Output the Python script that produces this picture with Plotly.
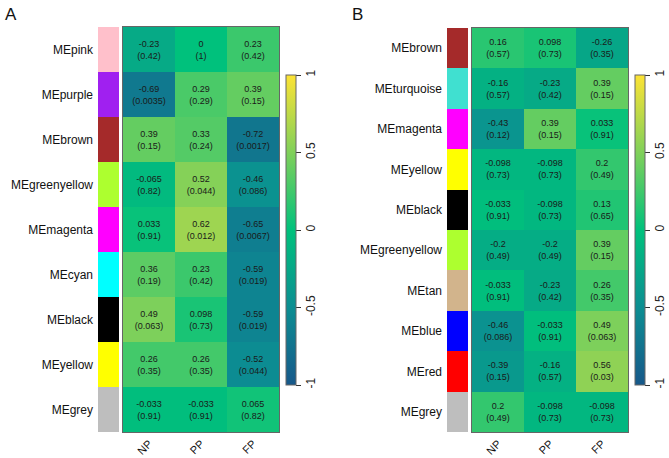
import plotly.graph_objects as go

traits = ["NP", "PP", "FP"]

# Panel A
rows_a = ["MEpink", "MEpurple", "MEbrown", "MEgreenyellow", "MEmagenta",
          "MEcyan", "MEblack", "MEyellow", "MEgrey"]
colors_a = ["#FFC0CB", "#A020F0", "#A52A2A", "#ADFF2F", "#FF00FF",
            "#00FFFF", "#000000", "#FFFF00", "#BEBEBE"]
r_np_a = [-0.23, -0.69, 0.39, -0.065, 0.033, 0.36, 0.49, 0.26, -0.033]
r_pp_a = [0, 0.29, 0.33, 0.52, 0.62, 0.23, 0.098, 0.26, -0.033]
r_fp_a = [0.23, 0.39, -0.72, -0.46, -0.65, -0.59, -0.59, -0.52, 0.065]
p_np_a = [0.42, 0.0035, 0.15, 0.82, 0.91, 0.19, 0.063, 0.35, 0.91]
p_pp_a = [1, 0.29, 0.24, 0.044, 0.012, 0.42, 0.73, 0.35, 0.91]
p_fp_a = [0.42, 0.15, 0.0017, 0.086, 0.0067, 0.019, 0.019, 0.044, 0.82]

# Panel B
rows_b = ["MEbrown", "MEturquoise", "MEmagenta", "MEyellow", "MEblack",
          "MEgreenyellow", "MEtan", "MEblue", "MEred", "MEgrey"]
colors_b = ["#A52A2A", "#40E0D0", "#FF00FF", "#FFFF00", "#000000",
            "#ADFF2F", "#D2B48C", "#0000FF", "#FF0000", "#BEBEBE"]
r_np_b = [0.16, -0.16, -0.43, -0.098, -0.033, -0.2, -0.033, -0.46, -0.39, 0.2]
r_pp_b = [0.098, -0.23, 0.39, -0.098, -0.098, -0.2, -0.23, -0.033, -0.16, -0.098]
r_fp_b = [-0.26, 0.39, 0.033, 0.2, 0.13, 0.39, 0.26, 0.49, 0.56, -0.098]
p_np_b = [0.57, 0.57, 0.12, 0.73, 0.91, 0.49, 0.91, 0.086, 0.15, 0.49]
p_pp_b = [0.73, 0.42, 0.15, 0.73, 0.73, 0.49, 0.42, 0.91, 0.57, 0.73]
p_fp_b = [0.35, 0.15, 0.91, 0.49, 0.65, 0.15, 0.35, 0.063, 0.03, 0.73]

colorscale = [[0.0, "#17588a"], [0.25, "#0c8e92"], [0.5, "#00c17c"],
              [0.75, "#80d05a"], [1.0, "#fde334"]]

FONT = "Arial, 'Liberation Sans', sans-serif"
W, H = 669, 458


def fx(px):
    return px / W


def fy(py):
    return 1 - py / H


def build(rs, ps):
    z = [[rs[0][i], rs[1][i], rs[2][i]] for i in range(len(rs[0]))]
    t = [[f"{rs[j][i]:g}<br>({ps[j][i]:g})" for j in range(3)] for i in range(len(rs[0]))]
    return z, t


fig = go.Figure()

panels = [
    dict(rows=rows_a, colors=colors_a, rs=[r_np_a, r_pp_a, r_fp_a], ps=[p_np_a, p_pp_a, p_fp_a],
         strip=(98, 119), heat=(123, 279), top=27, cb=286, sx="x", sy="y", hx="x2", hy="y2"),
    dict(rows=rows_b, colors=colors_b, rs=[r_np_b, r_pp_b, r_fp_b], ps=[p_np_b, p_pp_b, p_fp_b],
         strip=(447, 468), heat=(472, 628), top=28, cb=635, sx="x3", sy="y3", hx="x4", hy="y4"),
]

bottom = 432
for k, p in enumerate(panels):
    z, t = build(p["rs"], p["ps"])
    fig.add_trace(go.Bar(
        x=[1] * len(p["rows"]), y=p["rows"], orientation="h",
        marker=dict(color=p["colors"], line=dict(width=0)), width=1,
        xaxis=p["sx"], yaxis=p["sy"], showlegend=False, hoverinfo="skip"))
    fig.add_trace(go.Heatmap(
        z=z, x=traits, y=p["rows"], text=t, texttemplate="%{text}",
        textfont=dict(size=9, color="#1a1a1a", family=FONT),
        colorscale=colorscale, zmin=-1, zmax=1,
        xaxis=p["hx"], yaxis=p["hy"],
        colorbar=dict(x=fx(p["cb"]), xanchor="left", xpad=0, ypad=0,
                      y=fy(230), yanchor="middle", len=310 / H, thickness=10,
                      outlinewidth=1, outlinecolor="#666666",
                      tickvals=[-1, -0.5, 0, 0.5, 1], ticktext=["-1", "-0.5", "0", "0.5", "1"],
                      ticks="outside", ticklen=5, tickcolor="#333333",
                      tickangle=-90, tickfont=dict(size=12, color="#222222", family=FONT))))

layout = dict(
    width=W, height=H, margin=dict(l=0, r=0, t=0, b=0),
    paper_bgcolor="white", plot_bgcolor="white",
    font=dict(family=FONT, color="#222222"),
    bargap=0,
)

for k, p in enumerate(panels):
    sxn = "xaxis" if k == 0 else "xaxis3"
    syn = "yaxis" if k == 0 else "yaxis3"
    hxn = "xaxis2" if k == 0 else "xaxis4"
    hyn = "yaxis2" if k == 0 else "yaxis4"
    n = len(p["rows"])
    layout[sxn] = dict(domain=[fx(p["strip"][0]), fx(p["strip"][1])], range=[0, 1],
                       visible=False, anchor=p["sy"], fixedrange=True)
    layout[syn] = dict(domain=[fy(bottom), fy(p["top"])], anchor=p["sx"],
                       categoryorder="array", categoryarray=p["rows"],
                       range=[n - 0.5, -0.5], showline=False, showgrid=False,
                       ticks="", ticklabelstandoff=4,
                       tickfont=dict(size=12, color="#111111", family=FONT))
    layout[hxn] = dict(domain=[fx(p["heat"][0]), fx(p["heat"][1])], anchor=p["hy"],
                       showline=True, mirror=True, linecolor="#666666", linewidth=1,
                       ticks="", tickangle=-45, showgrid=False,
                       tickfont=dict(size=11, color="#111111", family=FONT))
    layout[hyn] = dict(domain=[fy(bottom), fy(p["top"])], anchor=p["hx"],
                       categoryorder="array", categoryarray=p["rows"],
                       range=[n - 0.5, -0.5], showticklabels=False,
                       showline=True, mirror=True, linecolor="#666666", linewidth=1,
                       ticks="", showgrid=False)

layout["annotations"] = [
    dict(text="A", x=fx(3), y=fy(3), xref="paper", yref="paper", xanchor="left",
         yanchor="top", showarrow=False, font=dict(size=17, color="#111111", family=FONT)),
    dict(text="B", x=fx(350), y=fy(3), xref="paper", yref="paper", xanchor="left",
         yanchor="top", showarrow=False, font=dict(size=17, color="#111111", family=FONT)),
]

fig.update_layout(**layout)
fig.write_html("out.html")
